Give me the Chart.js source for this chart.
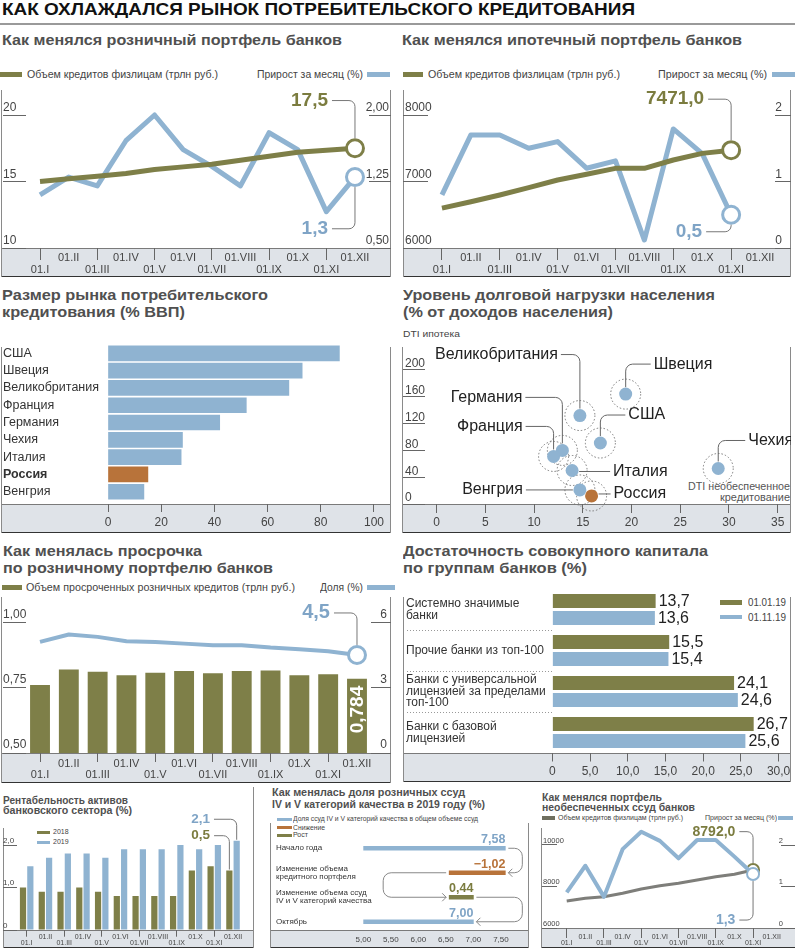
<!DOCTYPE html>
<html lang="ru"><head><meta charset="utf-8">
<script src="https://cdn.jsdelivr.net/npm/chart.js@4.4.1/dist/chart.umd.min.js"></script>
<style>
html,body{margin:0;padding:0}
body{width:795px;height:951px;position:relative;overflow:hidden;background:#fff;font-family:"Liberation Sans",Arial,Helvetica,sans-serif}
.a{position:absolute;white-space:nowrap;transform-origin:0 50%}
.r{position:absolute}
canvas{position:absolute}
</style></head><body>
<script>
// ================= DATA =================
const months = ['01.I','01.II','01.III','01.IV','01.V','01.VI','01.VII','01.VIII','01.IX','01.X','01.XI','01.XII'];

// 1. Retail portfolio
const retailVolume = [15.0, 15.2, 15.4, 15.6, 15.9, 16.1, 16.3, 16.6, 16.9, 17.2, 17.35, 17.5];
const retailGrowth = [1.10, 1.30, 1.20, 1.71, 2.00, 1.61, 1.42, 1.20, 1.80, 1.61, 0.91, 1.3];
const retailVolumeTicks = [10, 15, 20];
const retailGrowthTicks = [0.5, 1.25, 2.0];

// 2. Mortgage portfolio
const mortgageVolume = [6600, 6696, 6797, 6907, 7023, 7108, 7198, 7198, 7323, 7423, 7471.0, null];
const mortgageGrowth = [0.80, 1.70, 1.70, 1.50, 1.60, 1.20, 1.31, 0.12, 1.79, 1.42, 0.5, null];
const mortgageVolumeTicks = [6000, 7000, 8000];
const mortgageGrowthTicks = [0, 1, 2];

// 3. Consumer credit market size (% GDP)
const gdpCountries = ['США','Швеция','Великобритания','Франция','Германия','Чехия','Италия','Россия','Венгрия'];
const gdpShare = [87, 73, 68, 52, 42, 28, 27.5, 15, 13.5];
const gdpTicks = [0, 20, 40, 60, 80, 100];

// 4. Debt burden (DTI)
const dtiCountries = ['Великобритания','Швеция','США','Германия','Франция','Италия','Венгрия','Россия','Чехия'];
const dtiUnsecured = [14.7, 19.4, 16.8, 12.9, 12.0, 13.9, 14.7, 15.9, 28.9];
const dtiMortgage = [132, 164, 91, 80, 71, 50, 21, 12, 53];
const dtiXTicks = [0, 5, 10, 15, 20, 25, 30, 35];
const dtiYTicks = [0, 40, 80, 120, 160, 200];

// 5. Overdue retail loans
const overdueVolume = [0.760, 0.820, 0.811, 0.798, 0.807, 0.814, 0.805, 0.814, 0.816, 0.798, 0.801, 0.784];
const overdueShare = [5.10, 5.44, 5.33, 5.13, 5.10, 5.02, 4.95, 4.95, 4.84, 4.76, 4.67, 4.5];
const overdueVolumeTicks = [0.5, 0.75, 1.0];
const overdueShareTicks = [0, 3, 6];

// 6. Capital adequacy
const capGroups = [['Системно значимые','банки'], ['Прочие банки из топ-100'], ['Банки с универсальной','лицензией за пределами','топ-100'], ['Банки с базовой','лицензией']];
const capSeries = ['01.01.19', '01.11.19'];
const capJan = [13.7, 15.5, 24.1, 26.7];
const capNov = [13.6, 15.4, 24.6, 25.6];
const capTicks = [0, 5, 10, 15, 20, 25, 30];

// 7. ROA
const roaYears = ['2018', '2019'];
const roa2018 = [1.0, 0.9, 0.9, 1.0, 0.9, 0.8, 0.8, 0.8, 0.8, 1.4, 1.5, 1.4];
const roa2019 = [1.5, 1.7, 1.8, 1.8, 1.7, 1.9, 1.9, 1.9, 2.0, 1.9, 2.0, 2.1];
const roaTicks = [0, 1, 2];
const roaCallouts = [2.1, 0.5];

// 8. Share of IV-V quality loans
const nplRows = [['Начало года'], ['Изменение объема','кредитного портфеля'], ['Изменение объема ссуд','IV и V категорий качества'], ['Октябрь']];
const nplValues = [7.58, -1.02, 0.44, 7.00];
const nplTicks = [5, 5.5, 6, 6.5, 7, 7.5];
const nplLegend = ['Доля ссуд IV и V категорий качества в общем объеме ссуд', 'Снижение', 'Рост'];

// 9. Unsecured loans
const unsecVolume = [7301, 7431, 7510, 7672, 7880, 8040, 8155, 8313, 8474, 8590, 8792.0, null];
const unsecGrowth = [0.86, 1.50, 0.75, 1.90, 2.32, 2.10, 1.68, 2.12, 2.12, 1.72, 1.3, null];
const unsecVolumeTicks = [6000, 8000, 10000];
const unsecGrowthTicks = [0, 1, 2];

// ================= STYLE / HELPERS =================
const F = '"Liberation Sans", Arial, sans-serif';
const OLIVE = '#7e7f48', BLUE = '#8fb3d1', ORANGE = '#b8733a', DARKGRAY = '#7e7e7a';
const OLIVE_TXT = '#7b7c3f', BLUE_TXT = '#7fa4c6';
const HIGHLIGHT = 'Россия';

Chart.defaults.font.family = F;
Chart.defaults.color = '#444';
Chart.defaults.animation = false;
Chart.defaults.responsive = false;
Chart.defaults.maintainAspectRatio = false;
Chart.defaults.devicePixelRatio = 1;
Chart.defaults.layout.autoPadding = false;
Chart.defaults.plugins.legend.display = false;
Chart.defaults.plugins.tooltip.enabled = false;

const comma = (v, d) => v.toFixed(d).replace('.', ',');

function T(x, y, s, size, o = {}) {
  const d = document.createElement('div');
  d.className = 'a'; d.textContent = s;
  const lh = Math.round(size * 1.2);
  d.style.left = x + 'px'; d.style.top = (y - lh / 2) + 'px';
  d.style.fontSize = size + 'px'; d.style.lineHeight = lh + 'px';
  d.style.color = o.c || '#444'; d.style.fontWeight = o.b ? 'bold' : 'normal';
  document.body.appendChild(d);
  if (o.w) { const w = d.getBoundingClientRect().width; d.style.transform = 'scaleX(' + (o.w / w) + ')'; }
  return d;
}
function R(x, y, w, h, bg, extra) {
  const d = document.createElement('div'); d.className = 'r';
  d.style.cssText += `left:${x}px;top:${y}px;width:${w}px;height:${h}px;background:${bg};` + (extra || '');
  document.body.appendChild(d); return d;
}
function band(x, y, w, h) { R(x, y, w, h, '#dfe3e8', 'border-top:1px solid #7a7a7a;border-bottom:1px solid #333;box-sizing:border-box;'); }
function vline(x, y, h) { R(x, y, 1, h, '#8a8a8a'); }
function cv(left, top, w, h) {
  const c = document.createElement('canvas');
  c.width = w; c.height = h;
  c.style.left = left + 'px'; c.style.top = top + 'px'; c.style.width = w + 'px'; c.style.height = h + 'px';
  document.body.appendChild(c); return c;
}
function fitV(width) { return s => { s.width = width; s.paddingTop = 0; s.paddingBottom = 0; s.paddingLeft = 0; s.paddingRight = 0; }; }
function fitH(height) { return s => { s.height = height; s.paddingTop = 0; s.paddingBottom = 0; s.paddingLeft = 0; s.paddingRight = 0; }; }
// y axis: labels aligned to the outer edge (inset px inward), short tick line under each label
function yAxis(pos, width, min, max, ticks, fmt, size, off, inset = 0) {
  return { type: 'linear', axis: 'y', position: pos, min, max,
    afterFit: fitV(width),
    afterBuildTicks(s) { s.ticks = ticks.map(v => ({ value: v })); },
    grid: { drawOnChartArea: false, drawTicks: true, tickLength: width, color: '#666', lineWidth: 1 },
    border: { display: false },
    ticks: { autoSkip: false, mirror: true, crossAlign: 'near', labelOffset: off,
      padding: pos === 'left' ? -width + inset : width - inset, color: '#444', font: { size, family: F }, callback: v => fmt(v) } };
}
function monthAxis(height, size, lh, tl, pad) {
  return { type: 'category', offset: true,
    afterFit: fitH(height),
    grid: { drawOnChartArea: false, drawTicks: true, tickLength: tl, offset: false,
      color: c => c.index % 2 === 0 ? '#666' : 'rgba(0,0,0,0)', lineWidth: 1 },
    border: { display: false },
    ticks: { autoSkip: false, maxRotation: 0, minRotation: 0, padding: pad, color: '#444',
      font: { size, lineHeight: lh, family: F },
      callback: (v, i) => i % 2 === 0 ? ['', months[i]] : months[i] } };
}
function lineDs(data, axis, color, width, r, bw, ptColor) {
  let last = 0; data.forEach((v, i) => { if (v != null) last = i; });
  return { type: 'line', data, yAxisID: axis, borderColor: color, borderWidth: width, tension: 0, clip: false,
    borderJoinStyle: 'round', spanGaps: false,
    pointRadius: c => c.dataIndex === last ? r : 0, pointHoverRadius: 0,
    pointBackgroundColor: '#fff', pointBorderColor: ptColor || color, pointBorderWidth: bw };
}
function elbow(ctx, x1, y1, x2, y2, r) {
  ctx.beginPath(); ctx.moveTo(x1, y1); ctx.arcTo(x2, y1, x2, y2, r); ctx.lineTo(x2, y2); ctx.stroke();
}
function callouts(items) {
  return { id: 'callouts', afterDatasetsDraw(chart) {
    const ctx = chart.ctx; ctx.save();
    items.forEach(it => {
      const el = chart.getDatasetMeta(it.ds).data[it.idx];
      const px = el.x, py = el.y, tx = px + it.dx, ty = py + it.dy;
      ctx.font = it.font; ctx.fillStyle = it.color; ctx.textAlign = 'right'; ctx.textBaseline = 'middle';
      ctx.fillText(it.text, tx, ty);
      ctx.strokeStyle = '#777'; ctx.lineWidth = 1;
      elbow(ctx, tx + 4, ty, px, ty < py ? py - it.gap : py + it.gap, 6);
    });
    ctx.restore();
  } };
}

// ================= STATIC TEXT / FRAMES =================
T(2, 10, 'КАК ОХЛАЖДАЛСЯ РЫНОК ПОТРЕБИТЕЛЬСКОГО КРЕДИТОВАНИЯ', 17, { b: 1, c: '#111', w: 633 });
R(0, 23, 795, 2, '#9a9a9a');

const TC = '#505050';
T(2, 40, 'Как менялся розничный портфель банков', 15, { b: 1, c: TC, w: 340 });
T(402, 40, 'Как менялся ипотечный портфель банков', 15, { b: 1, c: TC, w: 340 });
T(2, 295, 'Размер рынка потребительского', 15, { b: 1, c: TC, w: 266 });
T(2, 312, 'кредитования (% ВВП)', 15, { b: 1, c: TC, w: 183 });
T(403, 295, 'Уровень долговой нагрузки населения', 15, { b: 1, c: TC, w: 312 });
T(403, 312, '(% от доходов населения)', 15, { b: 1, c: TC, w: 210 });
T(3, 551, 'Как менялась просрочка', 15, { b: 1, c: TC, w: 199 });
T(3, 568, 'по розничному портфелю банков', 15, { b: 1, c: TC, w: 270 });
T(403, 551, 'Достаточность совокупного капитала', 15, { b: 1, c: TC, w: 305 });
T(403, 568, 'по группам банков (%)', 15, { b: 1, c: TC, w: 184 });
T(3, 800, 'Рентабельность активов', 10.5, { b: 1, c: TC, w: 125 });
T(3, 810.5, 'банковского сектора (%)', 10.5, { b: 1, c: TC, w: 129 });
T(272, 792, 'Как менялась доля розничных ссуд', 11, { b: 1, c: TC, w: 193 });
T(272, 804, 'IV и V категорий качества в 2019 году (%)', 11, { b: 1, c: TC, w: 213 });
T(542, 797, 'Как менялся портфель', 11, { b: 1, c: TC, w: 120 });
T(542, 807, 'необеспеченных ссуд банков', 11, { b: 1, c: TC, w: 153 });

// legends
R(0, 71.5, 21.7, 5.5, OLIVE); T(26.7, 74, 'Объем кредитов физлицам (трлн руб.)', 11.5, { w: 191 });
T(256.7, 74, 'Прирост за месяц (%)', 11.5, { w: 106 }); R(367, 71.5, 23, 5.5, BLUE);
R(403, 71.5, 20, 5.5, OLIVE); T(428, 74, 'Объем кредитов физлицам (трлн руб.)', 11.5, { w: 192 });
T(658, 74, 'Прирост за месяц (%)', 11.5, { w: 109 }); R(772, 71.5, 23, 5.5, BLUE);
R(2, 584.5, 20, 5.5, OLIVE); T(26, 587, 'Объем просроченных розничных кредитов (трлн руб.)', 11.5, { w: 269 });
T(320, 587, 'Доля (%)', 11.5, { w: 43 }); R(367, 584.5, 28, 5.5, BLUE);
T(403, 333, 'DTI ипотека', 9.5, { w: 57 });
T(688, 487, 'DTI необеспеченное', 10, { c: '#555', w: 102 });
T(720, 498, 'кредитование', 10, { c: '#555', w: 70 });
R(720, 600, 22, 4.5, OLIVE); T(748, 602, capSeries[0], 11, { w: 38 });
R(720, 614.5, 22, 4.5, BLUE); T(748, 617, capSeries[1], 11, { w: 38 });
R(37, 830.5, 13, 3, OLIVE); T(53, 831.7, roaYears[0], 7);
R(37, 841, 13, 3, BLUE); T(53, 842.3, roaYears[1], 7);
R(277, 817.5, 15, 3, BLUE); T(293.3, 819, nplLegend[0], 6.5, { w: 185 });
R(277, 826.2, 15, 3, ORANGE); T(293.3, 827.7, nplLegend[1], 6.5, { w: 32 });
R(277, 833.5, 15, 3, OLIVE); T(293.3, 835, nplLegend[2], 6.5, { w: 15 });
R(541.7, 816.3, 13.3, 3.5, '#6f6f5f'); T(558.3, 818, 'Объем кредитов физлицам (трлн руб.)', 7, { w: 125 });
T(705, 818, 'Прирост за месяц (%)', 7, { w: 72 }); R(778, 816.3, 15, 3.5, BLUE);

// bands + frames
band(1, 248, 390, 29); band(403, 248, 388, 29);
band(1, 504, 390, 29); band(402, 504, 389, 29);
band(1, 753, 390, 30); band(403, 753, 388, 29);
band(3, 930, 251, 18); band(270, 930, 259, 18); band(541, 928, 254, 20);
[[1, 90, 187], [390, 90, 187], [403, 90, 187], [790, 90, 187],
 [1, 347, 186], [390, 347, 186], [402, 347, 186], [790, 347, 186],
 [1, 597, 186], [390, 597, 186], [403, 597, 185], [790, 597, 185],
 [3, 828, 120], [253, 787, 161], [270, 823, 125], [528, 823, 125], [541, 828, 120]].forEach(v => vline(...v));

// ================= CHART 1 =================
new Chart(cv(0, 90, 391, 187), {
  type: 'line',
  data: { labels: months, datasets: [
    lineDs(retailVolume, 'yL', OLIVE, 5, 8.5, 3),
    lineDs(retailGrowth, 'yR', BLUE, 5, 8.5, 3)
  ] },
  options: { layout: { padding: { left: 3 } },
    scales: {
      x: monthAxis(29, 11, 1.08, 12, -8),
      yL: yAxis('left', 22.7, 10, 21.88, retailVolumeTicks, v => String(v), 12, -7),
      yR: yAxis('right', 21.7, 0.5, 2.282, retailGrowthTicks, v => comma(v, 2), 12, -7, 2)
    } },
  plugins: [callouts([
    { ds: 0, idx: 11, text: comma(retailVolume[11], 1), color: OLIVE_TXT, font: 'bold 19px ' + F, dx: -27, dy: -47.7, gap: 10 },
    { ds: 1, idx: 11, text: comma(retailGrowth[11], 1), color: BLUE_TXT, font: 'bold 19px ' + F, dx: -27, dy: 51.7, gap: 10 }
  ])]
});

// ================= CHART 2 =================
new Chart(cv(402, 90, 389, 187), {
  type: 'line',
  data: { labels: months, datasets: [
    lineDs(mortgageVolume, 'yL', OLIVE, 5, 8.5, 3),
    lineDs(mortgageGrowth, 'yR', BLUE, 5, 8.5, 3)
  ] },
  options: { layout: { padding: { left: 1 } },
    scales: {
      x: monthAxis(29, 11, 1.08, 12, -8),
      yL: yAxis('left', 24.5, 6000, 8376, mortgageVolumeTicks, v => String(v), 12, -7, 2),
      yR: yAxis('right', 16.5, 0, 2.376, mortgageGrowthTicks, v => String(v), 12, -7, 9)
    } },
  plugins: [callouts([
    { ds: 0, idx: 10, text: comma(mortgageVolume[10], 1), color: OLIVE_TXT, font: 'bold 19px ' + F, dx: -27, dy: -51, gap: 10 },
    { ds: 1, idx: 10, text: comma(mortgageGrowth[10], 1), color: BLUE_TXT, font: 'bold 19px ' + F, dx: -29, dy: 17, gap: 10 }
  ])]
});

// ================= CHART 3 =================
new Chart(cv(0, 345, 391, 188), {
  type: 'bar',
  data: { datasets: [{
    data: gdpShare.map((v, i) => ({ x: v, y: i })),
    backgroundColor: c => gdpCountries[c.dataIndex] === HIGHLIGHT ? ORANGE : BLUE,
    barThickness: 15
  }] },
  options: { indexAxis: 'y', layout: { padding: { left: 3 } },
    scales: {
      x: { type: 'linear', min: 0, max: 106.4,
        afterFit: fitH(29),
        afterBuildTicks(s) { s.ticks = gdpTicks.map(v => ({ value: v })); },
        grid: { drawOnChartArea: false, drawTicks: true, tickLength: 8, color: '#666' },
        border: { display: false },
        ticks: { autoSkip: false, padding: 3.4, color: '#444', font: { size: 12 }, callback: v => String(v) } },
      y: { type: 'linear', reverse: true, offset: false, min: -0.48, max: 8.71,
        afterFit: fitV(105),
        afterBuildTicks(s) { s.ticks = gdpCountries.map((c, i) => ({ value: i })); },
        grid: { display: false, drawTicks: false },
        border: { display: false },
        ticks: { autoSkip: false, mirror: true, crossAlign: 'near', padding: -105, color: '#333',
          font: c => ({ size: 12.5, family: F, weight: gdpCountries[c.index] === HIGHLIGHT ? 'bold' : 'normal' }),
          callback: v => gdpCountries[v] } }
    } }
});

// ================= CHART 4 =================
const dtiLayout = {
  'Великобритания': { dx: -22, dy: -61, align: 'right' },
  'Швеция': { dx: 28, dy: -30, align: 'left' },
  'США': { dx: 28, dy: -28, align: 'left' },
  'Германия': { dx: -40, dy: -53, align: 'right' },
  'Франция': { dx: -31, dy: -30, align: 'right' },
  'Италия': { dx: 41, dy: 1, align: 'left' },
  'Венгрия': { dx: -57, dy: 0, align: 'right' },
  'Россия': { dx: 22, dy: -2, align: 'left' },
  'Чехия': { dx: 30, dy: -28, align: 'left' }
};
const dtiPlugin = {
  id: 'dti',
  beforeDatasetsDraw(chart) {
    const ctx = chart.ctx; ctx.save();
    ctx.strokeStyle = '#777'; ctx.lineWidth = 1; ctx.setLineDash([1.5, 2]);
    chart.getDatasetMeta(0).data.forEach(p => { ctx.beginPath(); ctx.arc(p.x, p.y, 15, 0, Math.PI * 2); ctx.stroke(); });
    ctx.restore();
  },
  afterDatasetsDraw(chart) {
    const ctx = chart.ctx; ctx.save();
    ctx.font = '16px ' + F; ctx.textBaseline = 'middle'; ctx.fillStyle = '#222';
    ctx.strokeStyle = '#666'; ctx.lineWidth = 1;
    chart.getDatasetMeta(0).data.forEach((p, i) => {
      const L = dtiLayout[dtiCountries[i]];
      const tx = p.x + L.dx, ty = p.y + L.dy;
      ctx.textAlign = L.align; ctx.fillText(dtiCountries[i], tx, ty);
      const sx = L.align === 'right' ? tx + 3 : tx - 3;
      if (Math.abs(L.dy) < 4) {
        ctx.beginPath(); ctx.moveTo(sx, ty); ctx.lineTo(p.x + (sx < p.x ? -7 : 7), ty); ctx.stroke();
      } else {
        elbow(ctx, sx, ty, p.x, p.y + (L.dy < 0 ? -7 : 7), 7);
      }
    });
    ctx.restore();
  }
};
new Chart(cv(402, 347, 389, 186), {
  type: 'scatter',
  data: { datasets: [{
    data: dtiUnsecured.map((x, i) => ({ x, y: dtiMortgage[i] })),
    pointRadius: 6.5, pointHoverRadius: 6.5, borderWidth: 0,
    pointBackgroundColor: c => dtiCountries[c.dataIndex] === HIGHLIGHT ? ORANGE : BLUE
  }] },
  options: { layout: { padding: { left: 1 } }, clip: false,
    scales: {
      x: { type: 'linear', min: -1.2, max: 36.37,
        afterFit: fitH(29),
        afterBuildTicks(s) { s.ticks = dtiXTicks.map(v => ({ value: v })); },
        grid: { drawOnChartArea: false, drawTicks: true, tickLength: 9, color: '#666' },
        border: { display: false },
        ticks: { autoSkip: false, padding: 2, color: '#444', font: { size: 12 }, callback: v => String(v) } },
      y: yAxis('left', 22, 0, 234.3, dtiYTicks, v => String(v), 12, -6, 2)
    } },
  plugins: [dtiPlugin]
});

// ================= CHART 5 =================
const overdueLabel = { id: 'overdueLabel', afterDatasetsDraw(chart) {
  const el = chart.getDatasetMeta(1).data[overdueVolume.length - 1];
  const ctx = chart.ctx; ctx.save();
  ctx.translate(el.x, el.y + 7); ctx.rotate(-Math.PI / 2);
  ctx.font = 'bold 19px ' + F; ctx.fillStyle = '#fff'; ctx.textAlign = 'right'; ctx.textBaseline = 'middle';
  ctx.fillText(comma(overdueVolume[overdueVolume.length - 1], 3), 0, 1);
  ctx.restore();
} };
new Chart(cv(0, 597, 391, 186), {
  type: 'bar',
  data: { labels: months, datasets: [
    lineDs(overdueShare, 'yR', BLUE, 4, 8.5, 3),
    { type: 'bar', data: overdueVolume, yAxisID: 'yL', backgroundColor: OLIVE, categoryPercentage: 1, barPercentage: 0.69 }
  ] },
  options: { layout: { padding: { left: 3 } },
    scales: {
      x: monthAxis(30, 11, 0.95, 9, -3),
      yL: yAxis('left', 22.6, 0.5, 1.097, overdueVolumeTicks, v => comma(v, 2), 12, -8),
      yR: yAxis('right', 19.6, 0, 7.16, overdueShareTicks, v => String(v), 12, -8, 4)
    } },
  plugins: [overdueLabel, callouts([
    { ds: 0, idx: 11, text: comma(overdueShare[11], 1), color: BLUE_TXT, font: 'bold 20px ' + F, dx: -27, dy: -42, gap: 10 }
  ])]
});

// ================= CHART 6 =================
const capPlugin = { id: 'cap', afterDatasetsDraw(chart) {
  const ctx = chart.ctx; ctx.save();
  ctx.font = '16px ' + F; ctx.fillStyle = '#222'; ctx.textAlign = 'left'; ctx.textBaseline = 'middle';
  chart.data.datasets.forEach((ds, di) => chart.getDatasetMeta(di).data.forEach((b, i) => {
    ctx.fillText(comma(ds.data[i], 1), b.x + 3, b.y + 1);
  }));
  const y = chart.scales.y;
  ctx.strokeStyle = '#999'; ctx.lineWidth = 1; ctx.setLineDash([1, 2]);
  for (let i = 0; i < capGroups.length - 1; i++) {
    const yy = Math.round((y.getPixelForValue(i) + y.getPixelForValue(i + 1)) / 2) + 0.5;
    ctx.beginPath(); ctx.moveTo(y.left + 1, yy); ctx.lineTo(chart.chartArea.left, yy); ctx.stroke();
  }
  ctx.restore();
} };
new Chart(cv(402, 587, 390, 196), {
  type: 'bar',
  data: { labels: capGroups, datasets: [
    { data: capJan, backgroundColor: OLIVE, categoryPercentage: 0.83, barPercentage: 0.82 },
    { data: capNov, backgroundColor: BLUE, categoryPercentage: 0.83, barPercentage: 0.82 }
  ] },
  options: { indexAxis: 'y', layout: { padding: { left: 4, top: 2 } },
    scales: {
      x: { type: 'linear', min: 0, max: 31.78,
        afterFit: fitH(30),
        afterBuildTicks(s) { s.ticks = capTicks.map(v => ({ value: v })); },
        grid: { drawOnChartArea: false, drawTicks: true, tickLength: 8.5, color: '#666' },
        border: { display: false },
        ticks: { autoSkip: false, padding: 3, color: '#444', font: { size: 12 }, callback: v => v === 0 ? '0' : comma(v, 1) } },
      y: { type: 'category',
        afterFit: fitV(146.3),
        grid: { display: false, drawTicks: false },
        border: { display: false },
        ticks: { autoSkip: false, mirror: true, crossAlign: 'near', padding: -146.3, color: '#333', font: { size: 12, lineHeight: 0.96 } } }
    } },
  plugins: [capPlugin]
});

// ================= CHART 7 =================
new Chart(cv(2, 810, 252, 138), {
  type: 'bar',
  data: { labels: months, datasets: [
    { data: roa2018, backgroundColor: OLIVE, categoryPercentage: 0.78, barPercentage: 0.85 },
    { data: roa2019, backgroundColor: BLUE, categoryPercentage: 0.78, barPercentage: 0.85 }
  ] },
  options: { layout: { padding: { left: 1, right: 11.6, top: 18 } },
    scales: {
      x: monthAxis(18, 7, 0.95, 6.7, -3.3),
      y: yAxis('left', 14.3, 0, 2.4, roaTicks, v => v === 0 ? '0' : comma(v, 1), 8, -4.5)
    } },
  plugins: [callouts([
    { ds: 1, idx: 11, text: comma(roaCallouts[0], 1), color: BLUE_TXT, font: 'bold 13.5px ' + F, dx: -26.7, dy: -21.5, gap: 1 },
    { ds: 0, idx: 11, text: comma(roaCallouts[1], 1), color: OLIVE_TXT, font: 'bold 13.5px ' + F, dx: -19.3, dy: -34.8, gap: 1 }
  ])]
});

// ================= CHART 8 =================
const NPL_MIN = nplTicks[0];
let nplLevel = nplValues[0];
const nplBars = nplValues.map((v, i) => {
  if (i === 0 || i === nplValues.length - 1) return [NPL_MIN, v];
  const a = nplLevel, b = nplLevel + v; nplLevel = b;
  return [Math.min(a, b), Math.max(a, b)];
});
const nplColor = i => (i === 0 || i === nplValues.length - 1) ? BLUE : (nplValues[i] < 0 ? ORANGE : OLIVE);
const nplTextColor = i => (i === 0 || i === nplValues.length - 1) ? BLUE_TXT : (nplValues[i] < 0 ? ORANGE : OLIVE_TXT);
const nplText = i => nplValues[i] < 0 ? '\u2212' + comma(-nplValues[i], 2) : comma(nplValues[i], 2);
function arrowPath(ctx, pts, r) {
  ctx.beginPath(); ctx.moveTo(pts[0][0], pts[0][1]);
  for (let i = 1; i < pts.length - 1; i++) ctx.arcTo(pts[i][0], pts[i][1], pts[i + 1][0], pts[i + 1][1], r);
  const [ex, ey] = pts[pts.length - 1]; ctx.lineTo(ex, ey); ctx.stroke();
  const dir = Math.sign(ex - pts[pts.length - 2][0]);
  ctx.beginPath(); ctx.moveTo(ex - dir * 4, ey - 4); ctx.lineTo(ex, ey); ctx.lineTo(ex - dir * 4, ey + 4); ctx.stroke();
}
const nplPlugin = { id: 'npl', afterDatasetsDraw(chart) {
  const ctx = chart.ctx, bars = chart.getDatasetMeta(0).data;
  const e = bars.map(b => [Math.min(b.x, b.base), Math.max(b.x, b.base), b.y]);
  ctx.save();
  ctx.textAlign = 'right'; ctx.textBaseline = 'middle'; ctx.font = 'bold 12.5px ' + F;
  bars.forEach((b, i) => { ctx.fillStyle = nplTextColor(i); ctx.fillText(nplText(i), e[i][1], e[i][2] - 8.5); });
  ctx.strokeStyle = '#888'; ctx.lineWidth = 1;
  const xr = Math.max(...e.map(q => q[1])) + 17;
  arrowPath(ctx, [[e[0][1] + 3, e[0][2]], [xr, e[0][2]], [xr, e[1][2]], [e[1][1] + 3, e[1][2]]], 8);
  const xl = e[1][0] - 66;
  arrowPath(ctx, [[e[1][0] - 3, e[1][2]], [xl, e[1][2]], [xl, e[2][2]], [e[2][0] - 3, e[2][2]]], 8);
  arrowPath(ctx, [[e[2][1] + 3, e[2][2]], [xr, e[2][2]], [xr, e[3][2]], [e[3][1] + 3, e[3][2]]], 8);
  ctx.restore();
} };
new Chart(cv(269, 823, 260, 125), {
  type: 'bar',
  data: { labels: nplRows, datasets: [{
    data: nplBars, backgroundColor: c => nplColor(c.dataIndex), barThickness: 4
  }] },
  options: { indexAxis: 'y', layout: { padding: { left: 7, top: 13 } },
    scales: {
      x: { type: 'linear', min: NPL_MIN, max: 8.01,
        afterFit: fitH(14),
        afterBuildTicks(s) { s.ticks = nplTicks.map(v => ({ value: v })); },
        grid: { display: false, drawTicks: false },
        border: { display: false },
        ticks: { autoSkip: false, padding: 2, color: '#444', font: { size: 8, lineHeight: 1 }, callback: v => comma(v, 2) } },
      y: { type: 'category',
        afterFit: fitV(87.3),
        grid: { display: false, drawTicks: false },
        border: { display: false },
        ticks: { autoSkip: false, mirror: true, crossAlign: 'near', padding: -87.3, color: '#333', font: { size: 8, lineHeight: 1 } } }
    } },
  plugins: [nplPlugin]
});

// ================= CHART 9 =================
new Chart(cv(541, 812, 254, 136), {
  type: 'line',
  data: { labels: months, datasets: [
    lineDs(unsecGrowth, 'yR', BLUE, 4, 6, 2),
    lineDs(unsecVolume, 'yL', DARKGRAY, 3, 6, 2, OLIVE)
  ] },
  options: { layout: { padding: { left: 1, top: 16 } },
    scales: {
      x: monthAxis(20, 7, 0.95, 10, -4.6),
      yL: yAxis('left', 15.4, 6000, 10819, unsecVolumeTicks, v => String(v), 7.5, -4.5, 1),
      yR: yAxis('right', 14, 0, 2.41, unsecGrowthTicks, v => String(v), 7.5, -4.5, 12)
    } },
  plugins: [callouts([
    { ds: 1, idx: 10, text: comma(unsecVolume[10], 1), color: OLIVE_TXT, font: 'bold 14px ' + F, dx: -17.7, dy: -38.4, gap: 7 },
    { ds: 0, idx: 10, text: comma(unsecGrowth[10], 1), color: BLUE_TXT, font: 'bold 14px ' + F, dx: -17.7, dy: 46, gap: 7 }
  ])]
});
</script>
</body></html>
